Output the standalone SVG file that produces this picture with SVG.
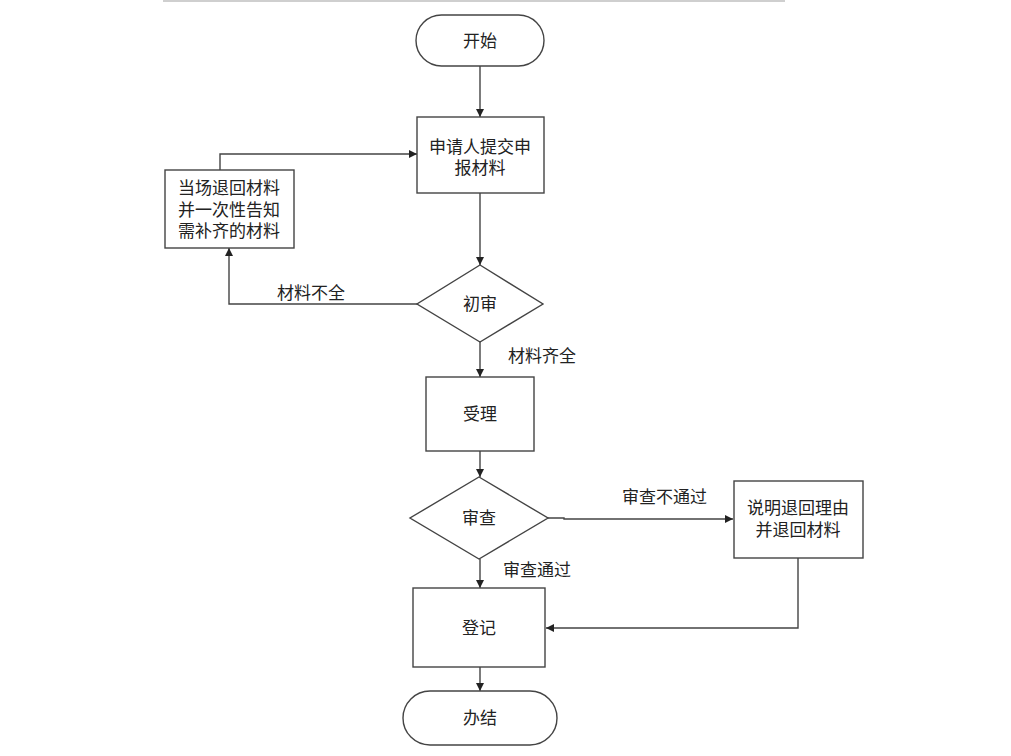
<svg xmlns="http://www.w3.org/2000/svg" width="1011" height="756" viewBox="0 0 1011 756">
<defs>
<marker id="arr" markerWidth="10" markerHeight="10" refX="9" refY="5" orient="auto" markerUnits="userSpaceOnUse">
<path d="M1,1 L9,5 L1,9 Z" fill="#222"/>
</marker>
<style>
.s{fill:#fff;stroke:#444;stroke-width:1.4}
.c{fill:none;stroke:#444;stroke-width:1.4;marker-end:url(#arr)}
text{font-family:"Noto Sans CJK SC","Microsoft YaHei",sans-serif;font-size:17px;fill:#222}
.m{text-anchor:middle}
</style>
</defs>
<rect width="1011" height="756" fill="#fff"/>
<line x1="163" y1="1" x2="785" y2="1" stroke="#cfcfcf" stroke-width="2"/>
<g id="connectors">
<path class="c" d="M480,66 V117"/>
<path class="c" d="M480,193 V265"/>
<path class="c" d="M417,304 H229 V248"/>
<path class="c" d="M220,170 V154 H417"/>
<path class="c" d="M480,342 V377"/>
<path class="c" d="M480,451 V477"/>
<path class="c" d="M548,518 H564 V519 H733"/>
<path class="c" d="M480,559 V588"/>
<path class="c" d="M798,558 V628 H546"/>
<path class="c" d="M480,667 V691"/>
<text x="277" y="299">材料不全</text>
<text x="508" y="362">材料齐全</text>
<text x="622" y="503">审查不通过</text>
<text x="503" y="576">审查通过</text>
</g>
<g id="start"><rect class="s" x="416" y="15" width="128" height="51" rx="25.5"/><text class="m" x="480" y="47">开始</text></g>
<g id="submit"><rect class="s" x="417" y="117" width="127" height="76"/><text class="m" x="480" y="153"><tspan x="480">申请人提交申</tspan><tspan x="480" dy="21">报材料</tspan></text></g>
<g id="return1"><rect class="s" x="165" y="170" width="129" height="78"/><text class="m" x="229" y="194"><tspan x="229">当场退回材料</tspan><tspan x="229" dy="21.5">并一次性告知</tspan><tspan x="229" dy="21.5">需补齐的材料</tspan></text></g>
<g id="precheck"><polygon class="s" points="480,265 543,304 480,342 417,304"/><text class="m" x="480" y="310">初审</text></g>
<g id="accept"><rect class="s" x="426" y="377" width="108" height="74"/><text class="m" x="480" y="420">受理</text></g>
<g id="review"><polygon class="s" points="479,477 548,518 479,559 410,518"/><text class="m" x="479" y="524">审查</text></g>
<g id="return2"><rect class="s" x="734" y="481" width="129" height="77"/><text class="m" x="798" y="514"><tspan x="798">说明退回理由</tspan><tspan x="798" dy="22">并退回材料</tspan></text></g>
<g id="register"><rect class="s" x="413" y="588" width="132" height="79"/><text class="m" x="479" y="634">登记</text></g>
<g id="finish"><rect class="s" x="403" y="691" width="154" height="54" rx="27"/><text class="m" x="480" y="724">办结</text></g>
</svg>
